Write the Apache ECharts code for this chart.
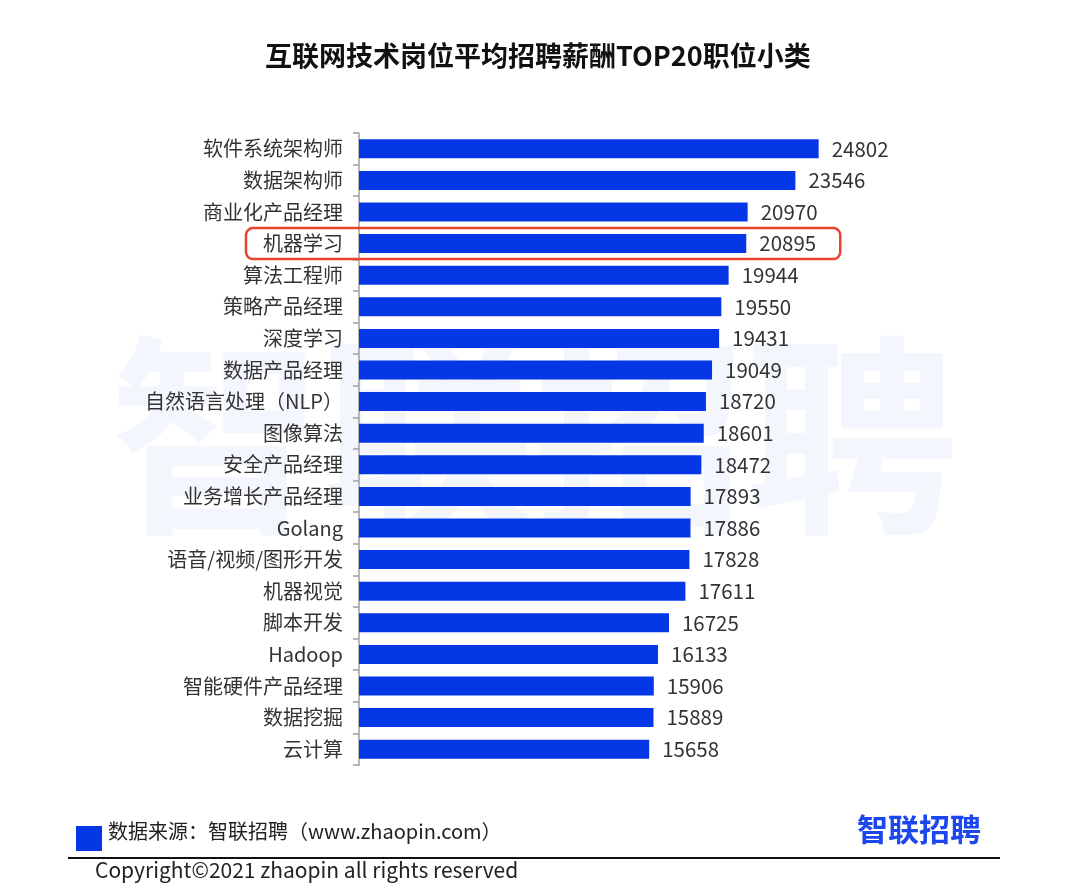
<!DOCTYPE html>
<html>
<head>
<meta charset="utf-8">
<script src="https://cdn.jsdelivr.net/npm/echarts@6/dist/echarts.min.js"></script>
<style>
html,body{margin:0;padding:0;background:#fff;}
#c{width:1080px;height:891px;}
</style>
</head>
<body>
<div id="c"></div>
<script>
const categories = ['软件系统架构师','数据架构师','商业化产品经理','机器学习','算法工程师','策略产品经理','深度学习','数据产品经理','自然语言处理（NLP）','图像算法','安全产品经理','业务增长产品经理','Golang','语音/视频/图形开发','机器视觉','脚本开发','Hadoop','智能硬件产品经理','数据挖掘','云计算'];
const salaries = [24802,23546,20970,20895,19944,19550,19431,19049,18720,18601,18472,17893,17886,17828,17611,16725,16133,15906,15889,15658];
const highlighted = '机器学习';

const FONT = '"Noto Sans CJK SC","Noto Sans",sans-serif';
const chart = echarts.init(document.getElementById('c'));
const option = {
  backgroundColor: '#ffffff',
  animation: false,
  title: {
    text: '互联网技术岗位平均招聘薪酬TOP20职位小类',
    left: 260, top: 37,
    textStyle: {fontFamily: FONT, fontSize: 27, fontWeight: 'bold', color: '#111'}
  },
  grid: {left: 359, top: 133, right: 165, bottom: 126},
  xAxis: {type: 'value', min: 0, max: 30000, show: false},
  yAxis: {
    type: 'category', data: categories, inverse: true,
    axisLine: {lineStyle: {color: '#a0a0a0', width: 1.5}},
    axisTick: {show: true, length: 6, lineStyle: {color: '#a0a0a0', width: 1.5}},
    axisLabel: {fontFamily: FONT, fontSize: 20, color: '#333', margin: 16}
  },
  series: [{
    type: 'bar', data: salaries, barWidth: 19,
    itemStyle: {color: '#0537e6'},
    label: {show: true, position: 'right', distance: 13, fontFamily: FONT, fontSize: 20.5, color: '#333'},
    z: 3
  }],
  graphic: []
};
chart.setOption(option);

// highlight box around the highlighted category row
const idx = categories.indexOf(highlighted);
const p0 = chart.convertToPixel({gridIndex: 0}, [0, idx]);
const p1 = chart.convertToPixel({gridIndex: 0}, [salaries[idx], idx]);

chart.setOption({
  graphic: [
    {type: 'text', left: 110, top: 330, z: -10, silent: true,
     style: {text: '智联招聘', fontFamily: FONT, fontSize: 212, fontWeight: 'bold', fill: '#f3f6fd'}},
    {type: 'rect', z: 10, silent: true,
     shape: {x: p0[0] - 113, y: p0[1] - 15.5, width: (p1[0] - p0[0]) + 94 + 113, height: 31, r: 7},
     style: {fill: 'none', stroke: '#e8452c', lineWidth: 2.5}},
    {type: 'rect', shape: {x: 76, y: 826, width: 26, height: 25}, style: {fill: '#0537e6'}},
    {type: 'text', left: 108, top: 821,
     style: {text: '数据来源：智联招聘（www.zhaopin.com）', fontFamily: FONT, fontSize: 20, fill: '#222'}},
    {type: 'text', left: 857, top: 814,
     style: {text: '智联招聘', fontFamily: FONT, fontSize: 31, fontWeight: 'bold', fill: '#1d47ee'}},
    {type: 'line', shape: {x1: 68, y1: 858, x2: 1000, y2: 858}, style: {stroke: '#111', lineWidth: 2}},
    {type: 'text', left: 95, top: 860,
     style: {text: 'Copyright©2021 zhaopin all rights reserved', fontFamily: FONT, fontSize: 21, fill: '#222'}}
  ]
});
</script>
</body>
</html>
